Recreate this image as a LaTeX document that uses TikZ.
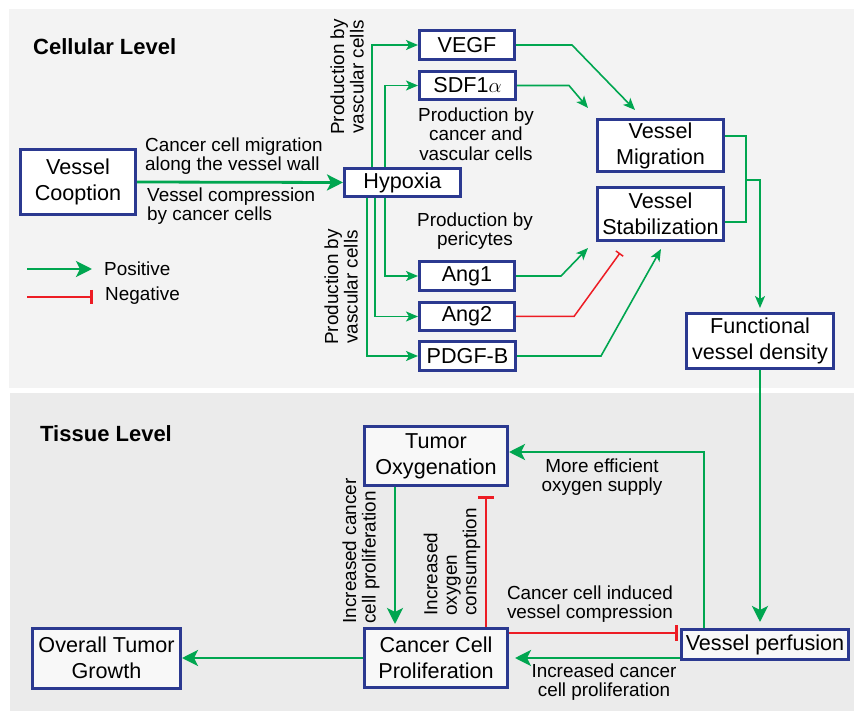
\documentclass[tikz,border=0pt]{standalone}
\usepackage{fontspec}
\setmainfont{Liberation Sans}
\usetikzlibrary{arrows.meta}
\definecolor{nblue}{RGB}{43,57,144}
\definecolor{ngreen}{RGB}{0,166,80}
\definecolor{nred}{RGB}{237,28,36}
\definecolor{bgtop}{RGB}{243,243,243}
\definecolor{bgbot}{RGB}{235,235,235}
\definecolor{boxfillb}{RGB}{248,248,248}
\newcommand{\nodefont}{\fontsize{21.6}{26}\selectfont}
\newcommand{\lblfont}{\fontsize{18.9}{19.5}\selectfont}
\newcommand{\ttlfont}{\bfseries\fontsize{22}{25}\selectfont}
\tikzset{
  box/.style={draw=nblue, line width=3pt, fill=white, inner sep=0pt, align=center, font=\nodefont},
  boxb/.style={box, fill=boxfillb},
  lbl/.style={inner sep=0pt, font=\lblfont, text=black},
  ttl/.style={inner sep=0pt, font=\ttlfont, anchor=west},
  posthin/.style={draw=ngreen, line width=1.6pt, -{Stealth[length=12pt,width=10pt,inset=3pt]}},
  posthick/.style={draw=ngreen, line width=2.8pt, -{Stealth[length=16pt,width=16pt,inset=4pt]}},
  negthin/.style={draw=nred, line width=1.5pt, -{Bar[width=9pt,line width=1.5pt]}},
  negthick/.style={draw=nred, line width=2.8pt, -{Bar[width=16pt,line width=3pt]}},
}
\begin{document}
\begin{tikzpicture}[x=1pt,y=-1pt]
\useasboundingbox (0,0) rectangle (854,711);
% panels
\fill[bgtop] (9,9) rectangle (854,388);
\fill[bgbot] (10,393) rectangle (854,711);
\node[ttl] (t1) at (33,47) {Cellular Level};
\node[ttl] (t2) at (40,434) {Tissue Level};

% cellular nodes
\node[box, minimum width=115pt, minimum height=65pt] (coop) at (78,182) {Vessel\\Cooption};
\node[box, minimum width=116pt, minimum height=28pt] (hyp) at (402.5,182.5) {Hypoxia};
\node[box, minimum width=95pt, minimum height=29pt] (vegf) at (467,45) {VEGF};
\node[box, minimum width=96pt, minimum height=28pt] (sdf) at (467.5,85.5) {SDF1$\alpha$};
\node[box, minimum width=126pt, minimum height=52pt] (mig) at (660.5,145.5) {Vessel\\Migration};
\node[box, minimum width=126pt, minimum height=53pt] (stab) at (660.5,214) {Vessel\\Stabilization};
\node[box, minimum width=95pt, minimum height=29pt] (ang1) at (467,276) {Ang1};
\node[box, minimum width=95pt, minimum height=28pt] (ang2) at (467,316.5) {Ang2};
\node[box, minimum width=96pt, minimum height=29pt] (pdgf) at (467.5,356) {PDGF-B};
\node[box, minimum width=147pt, minimum height=55pt] (func) at (760,341) {Functional\\vessel density};

% tissue nodes
\node[boxb, minimum width=143pt, minimum height=59pt] (tox) at (436,456) {Tumor\\Oxygenation};
\node[boxb, minimum width=143pt, minimum height=59pt] (ccp) at (436,658) {Cancer Cell\\Proliferation};
\node[boxb, minimum width=148pt, minimum height=60pt] (otg) at (106.5,658) {Overall Tumor\\Growth};
\node[boxb, minimum width=167pt, minimum height=30pt] (perf) at (765,644.5) {Vessel perfusion};

% labels
\node[lbl, anchor=west, align=left] (l1) at (145,156) {Cancer cell migration\\along the vessel wall};
\node[lbl, anchor=west, align=left] (l2) at (147,206) {Vessel compression\\by cancer cells};
\node[lbl, rotate=90, align=center] (l3) at (347,77) {Production by\\vascular cells};
\node[lbl, rotate=90, align=center] (l4) at (341,287) {Production by\\vascular cells};
\node[lbl, align=center] (l5) at (476,134) {Production by\\cancer and\\vascular cells};
\node[lbl, align=center] (l6) at (475,231) {Production by\\pericytes};
\node[lbl, align=center] (l7) at (602,477) {More efficient\\oxygen supply};
\node[lbl, align=center] (l8) at (590,604) {Cancer cell induced\\vessel compression};
\node[lbl, align=center] (l9) at (604,682) {Increased cancer\\cell proliferation};
\node[lbl, rotate=90, align=left] (l10) at (361,551) {Increased cancer\\cell proliferation};
\node[lbl, rotate=90, align=left] (l11) at (452,562) {Increased\\oxygen\\consumption};

% legend
\coordinate (lgA) at (27,269);
\coordinate (lgB) at (92,269);
\coordinate (lgC) at (27,297);
\coordinate (lgD) at (93,297);
\draw[posthick] (lgA) -- (lgB);
\draw[negthick, -{Bar[width=14pt,line width=3pt]}] (lgC) -- (lgD);
\node[lbl, anchor=west] (lp) at (104,269) {Positive};
\node[lbl, anchor=west] (ln) at (105,296) {Negative};

% cellular connectors
\draw[posthick] (coop.east) -- (hyp.west);
\draw[posthin] ([xshift=-30.5pt]hyp.north) |- (vegf.west);
\draw[posthin] ([xshift=-17.5pt]hyp.north) |- (sdf.west);
\draw[posthin] ([xshift=-17.5pt]hyp.south) |- (ang1.west);
\draw[posthin] ([xshift=-27.5pt]hyp.south) |- (ang2.west);
\draw[posthin] ([xshift=-35.5pt]hyp.south) |- (pdgf.west);

\coordinate (vegfT) at (635,110);
\coordinate (sdfT) at (588,108);
\coordinate (ang1T) at (588,248);
\coordinate (ang2T) at (620,253);
\coordinate (pdgfT) at (661,249);
\draw[posthin] (vegf.east) -- ++(56,0) -- (vegfT);
\draw[posthin] (sdf.east) -- ++(52,0) -- (sdfT);
\draw[posthin] (ang1.east) -- ++(45,0) -- (ang1T);
\draw[negthin] (ang2.east) -- ++(58,0) -- (ang2T);
\draw[posthin] (pdgf.east) -- ++(84,0) -- (pdgfT);

\draw[draw=ngreen, line width=1.6pt] ([yshift=9.5pt]mig.east) -- ++(21,0) |- ([yshift=-8pt]stab.east);
\coordinate (brk) at (746,180);
\draw[posthin, shorten >=4pt] (brk) -| (func.north);

% tissue connectors
\coordinate (cA) at ([yshift=25pt]ccp.east);
\coordinate (cB) at ([yshift=-13.5pt]perf.west);
\draw[posthick, shorten >=6pt] (func.south) -- (func.south |- perf.north);
\draw[posthick] ([xshift=-61pt]perf.north) |- ([yshift=4pt]tox.east);
\draw[negthick, shorten >=2pt] (cA) -- (perf.west |- cA);
\draw[posthick, shorten >=6pt] (cB) -- (ccp.east |- cB);
\draw[posthick, shorten >=3pt] ([xshift=-41pt]tox.south) -- ([xshift=-41pt]ccp.north);
\draw[negthick, shorten >=9pt] ([xshift=50pt]ccp.north) -- ([xshift=50pt]tox.south);
\draw[posthick] (ccp.west) -- (otg.east);
\end{tikzpicture}
\end{document}
